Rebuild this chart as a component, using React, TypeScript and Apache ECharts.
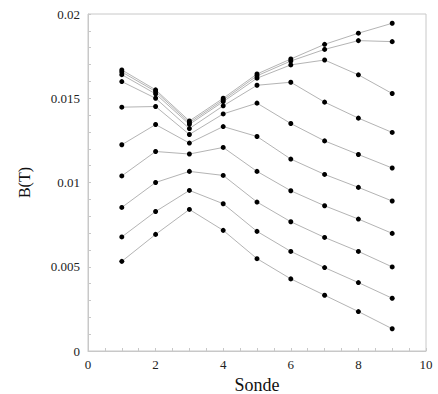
import React, { useEffect, useRef } from "react";
import * as echarts from "echarts";

const sondes = [1, 2, 3, 4, 5, 6, 7, 8, 9];

const s1 = [0.01668, 0.0155, 0.01365, 0.0150, 0.01644, 0.01733, 0.0182, 0.01886, 0.01945];
const s2 = [0.01656, 0.0154, 0.01355, 0.0149, 0.01633, 0.01721, 0.0179, 0.01842, 0.01836];
const s3 = [0.0164, 0.01526, 0.01345, 0.0148, 0.01619, 0.01698, 0.01727, 0.01639, 0.01528];
const s4 = [0.01599, 0.0150, 0.0132, 0.01455, 0.01577, 0.01595, 0.01477, 0.01382, 0.01297];
const s5 = [0.01447, 0.01451, 0.01285, 0.01407, 0.01471, 0.0135, 0.01247, 0.01166, 0.01086];
const s6 = [0.01224, 0.01344, 0.01234, 0.01332, 0.01273, 0.01139, 0.01048, 0.00971, 0.0089];
const s7 = [0.01039, 0.01184, 0.01169, 0.01208, 0.01066, 0.00951, 0.00862, 0.00783, 0.00698];
const s8 = [0.00852, 0.01, 0.01066, 0.01042, 0.00884, 0.00767, 0.00674, 0.00591, 0.00499];
const s9 = [0.00677, 0.00828, 0.00953, 0.00874, 0.0071, 0.00591, 0.00495, 0.00406, 0.00313];
const s10 = [0.00532, 0.00692, 0.0084, 0.00716, 0.00548, 0.00428, 0.00331, 0.00234, 0.00132];

const allSeries = [s1, s2, s3, s4, s5, s6, s7, s8, s9, s10];

const xTicks = [0, 2, 4, 6, 8, 10];
const yTicks = [0, 0.005, 0.01, 0.015, 0.02];

const FONT = "Liberation Serif";

export default function App() {
  const ref = useRef<HTMLDivElement>(null);
  useEffect(() => {
    if (!ref.current) return;
    const chart = echarts.init(ref.current, undefined, { renderer: "svg" });
    const axisColor = "#c8c8c8";
    chart.setOption({
      animation: false,
      backgroundColor: "#fff",
      grid: {
        left: 88,
        right: 12,
        top: 14,
        bottom: 43,
        show: true,
        borderColor: axisColor,
        borderWidth: 1,
        outerBoundsMode: "none",
        containLabel: false,
      },
      xAxis: {
        type: "value",
        min: xTicks[0],
        max: xTicks[xTicks.length - 1],
        interval: 2,
        name: "Sonde",
        nameLocation: "middle",
        nameGap: 24,
        nameTextStyle: { fontFamily: FONT, fontSize: 18, color: "#111" },
        axisLine: { show: true, lineStyle: { color: axisColor } },
        axisTick: { show: true, inside: true, length: 3, lineStyle: { color: axisColor } },
        minorTick: { show: true, splitNumber: 4, length: 3, lineStyle: { color: axisColor } },
        splitLine: { show: false },
        axisLabel: { fontFamily: FONT, fontSize: 13, color: "#222", margin: 7 },
      },
      yAxis: {
        type: "value",
        min: yTicks[0],
        max: yTicks[yTicks.length - 1],
        interval: 0.005,
        name: "B(T)",
        nameLocation: "middle",
        nameGap: 56,
        nameRotate: 90,
        nameTextStyle: { fontFamily: FONT, fontSize: 16, color: "#111" },
        axisLine: { show: true, lineStyle: { color: axisColor } },
        axisTick: { show: true, inside: true, length: 3, lineStyle: { color: axisColor } },
        minorTick: { show: true, splitNumber: 5, length: 3, lineStyle: { color: axisColor } },
        splitLine: { show: false },
        axisLabel: {
          fontFamily: FONT,
          fontSize: 13,
          color: "#222",
          margin: 8,
          formatter: (v: number) => String(+v.toFixed(3)),
        },
      },
      series: allSeries.map((s, i) => ({
        type: "line",
        name: "S" + (i + 1),
        data: s.map((v, j) => [sondes[j], v]),
        symbol: "circle",
        symbolSize: 5,
        showSymbol: true,
        lineStyle: { color: "#b4b4b4", width: 1 },
        itemStyle: { color: "#000" },
        emphasis: { disabled: true },
      })),
    });
    return () => chart.dispose();
  }, []);
  return (
    <div
      ref={ref}
      style={{ position: "absolute", left: 0, top: 0, width: 438, height: 394 }}
    />
  );
}
